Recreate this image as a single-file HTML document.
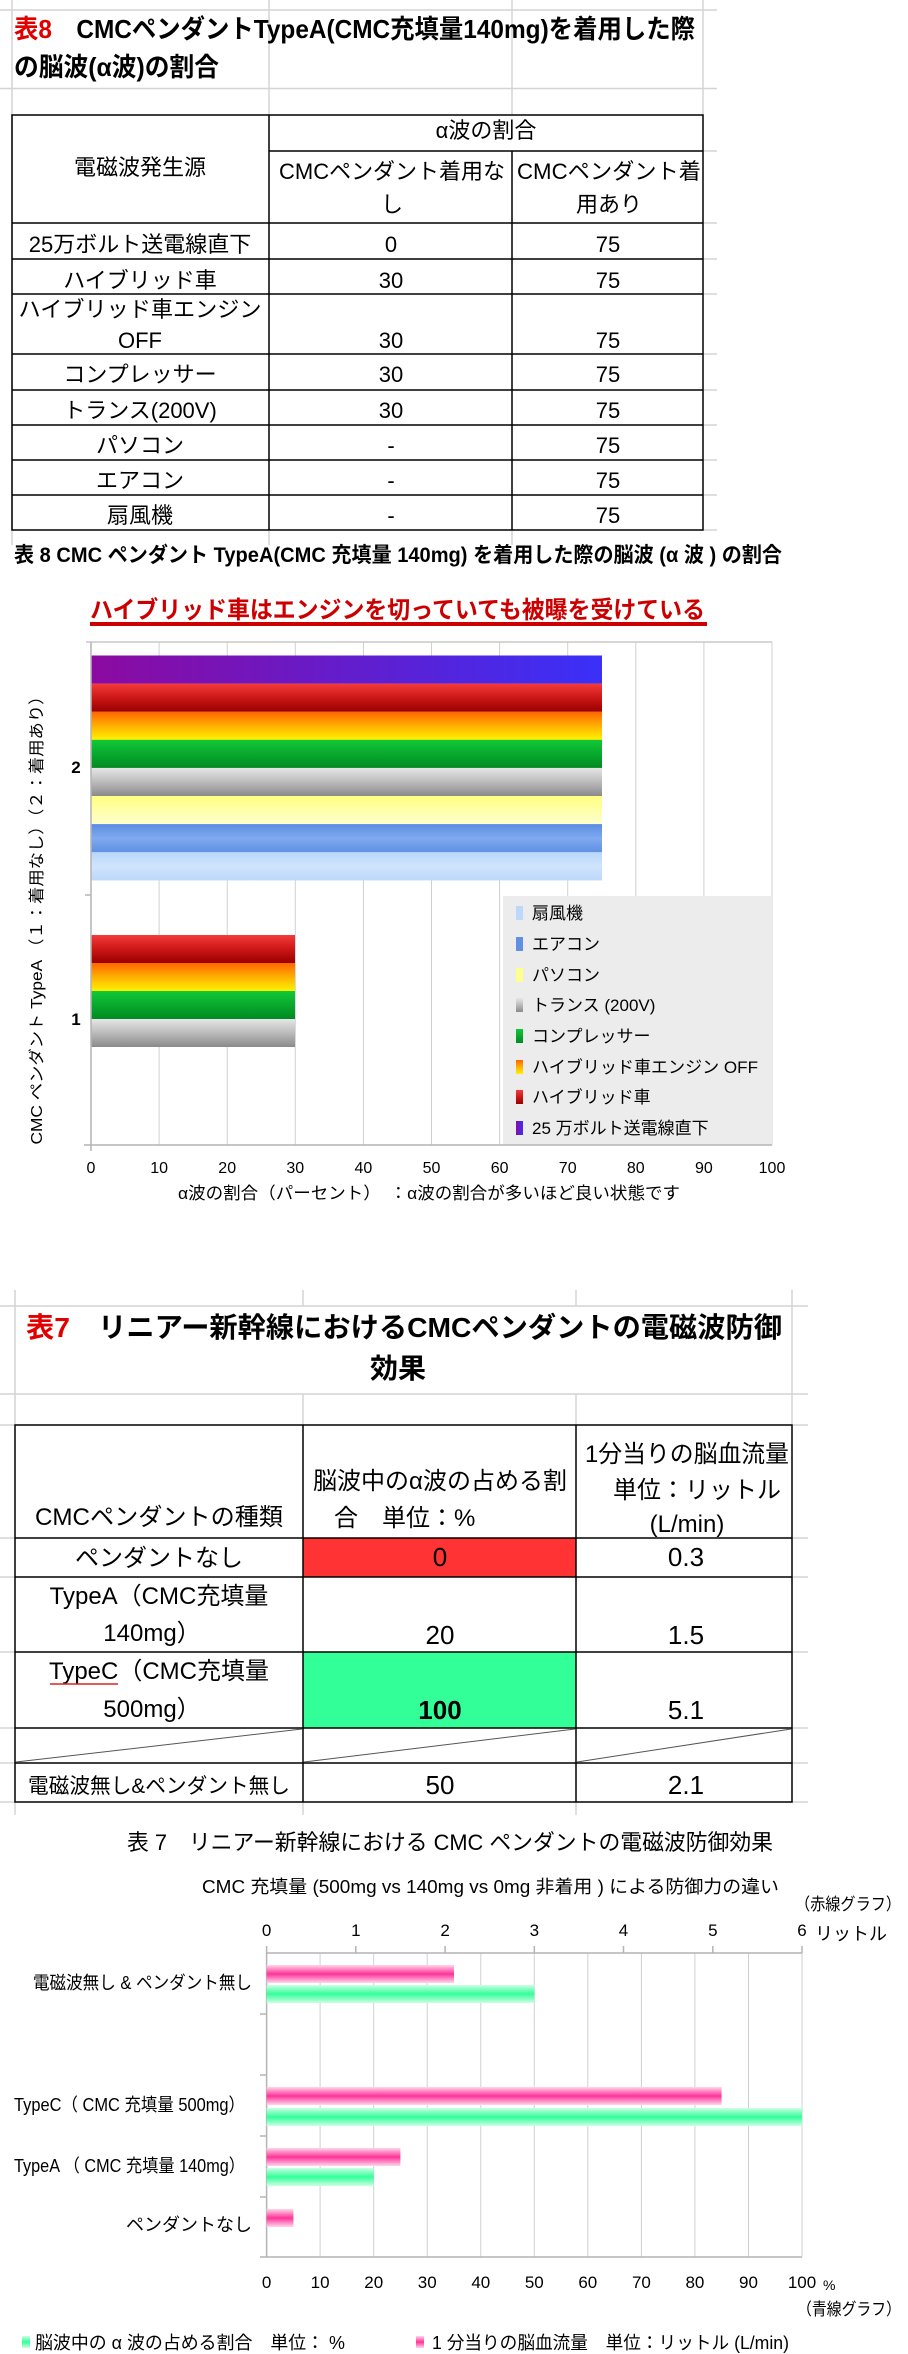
<!DOCTYPE html>
<html><head><meta charset="utf-8">
<style>
html,body{margin:0;padding:0;background:#fff;}
svg{display:block;}
text{font-family:"Liberation Sans","Noto Sans CJK JP",sans-serif;fill:#000;}
</style></head>
<body>
<svg width="908" height="2354" viewBox="0 0 908 2354" xmlns="http://www.w3.org/2000/svg">
<defs>
<linearGradient id="gPur" x1="0" y1="0" x2="1" y2="0"><stop offset="0" stop-color="#8c0aa0"/><stop offset="1" stop-color="#3a30f8"/></linearGradient>
<linearGradient id="gRed" x1="0" y1="0" x2="0" y2="1"><stop offset="0" stop-color="#f43a3a"/><stop offset="0.55" stop-color="#c81414"/><stop offset="1" stop-color="#980000"/></linearGradient>
<linearGradient id="gOr" x1="0" y1="0" x2="0" y2="1"><stop offset="0" stop-color="#ff6400"/><stop offset="0.5" stop-color="#ffb000"/><stop offset="1" stop-color="#fff200"/></linearGradient>
<linearGradient id="gGr" x1="0" y1="0" x2="0" y2="1"><stop offset="0" stop-color="#12c838"/><stop offset="1" stop-color="#008a22"/></linearGradient>
<linearGradient id="gGy" x1="0" y1="0" x2="0" y2="1"><stop offset="0" stop-color="#e6e6e6"/><stop offset="0.4" stop-color="#c4c4c4"/><stop offset="1" stop-color="#8a8a8a"/></linearGradient>
<linearGradient id="gYe" x1="0" y1="0" x2="0" y2="1"><stop offset="0" stop-color="#ffff80"/><stop offset="1" stop-color="#ffffd0"/></linearGradient>
<linearGradient id="gBl" x1="0" y1="0" x2="0" y2="1"><stop offset="0" stop-color="#5a8ce0"/><stop offset="0.5" stop-color="#80aaf0"/><stop offset="1" stop-color="#5f90e4"/></linearGradient>
<linearGradient id="gLb" x1="0" y1="0" x2="0" y2="1"><stop offset="0" stop-color="#b8d6fa"/><stop offset="0.5" stop-color="#d0e4fc"/><stop offset="1" stop-color="#bcd8fa"/></linearGradient>
<linearGradient id="gPk" x1="0" y1="0" x2="0" y2="1"><stop offset="0" stop-color="#ffd6ea"/><stop offset="0.5" stop-color="#ff3399"/><stop offset="1" stop-color="#ffd6ea"/></linearGradient>
<linearGradient id="gGn" x1="0" y1="0" x2="0" y2="1"><stop offset="0" stop-color="#ccffe4"/><stop offset="0.5" stop-color="#33ff99"/><stop offset="1" stop-color="#ccffe4"/></linearGradient>
</defs>

<!-- ===== Table 8 ===== -->
<g stroke="#d4d4d4" stroke-width="1.5">
<line x1="0" y1="10" x2="717" y2="10"/><line x1="0" y1="88.5" x2="717" y2="88.5"/>
<line x1="12" y1="0" x2="12" y2="545"/><line x1="269" y1="0" x2="269" y2="115"/><line x1="512" y1="0" x2="512" y2="115"/><line x1="703" y1="0" x2="703" y2="115"/>
<line x1="269" y1="530" x2="269" y2="545"/><line x1="512" y1="530" x2="512" y2="545"/>
<line x1="703" y1="151" x2="717" y2="151"/><line x1="703" y1="223" x2="717" y2="223"/><line x1="703" y1="259" x2="717" y2="259"/><line x1="703" y1="294" x2="717" y2="294"/><line x1="703" y1="354" x2="717" y2="354"/><line x1="703" y1="390" x2="717" y2="390"/><line x1="703" y1="425" x2="717" y2="425"/><line x1="703" y1="460" x2="717" y2="460"/><line x1="703" y1="495" x2="717" y2="495"/><line x1="703" y1="530" x2="717" y2="530"/>
</g>
<text x="14" y="38" font-size="26" font-weight="bold" textLength="681" lengthAdjust="spacingAndGlyphs"><tspan fill="#e00000">表8</tspan>　CMCペンダントTypeA(CMC充填量140mg)を着用した際</text>
<text x="14" y="76" font-size="26" font-weight="bold" textLength="205" lengthAdjust="spacingAndGlyphs">の脳波(α波)の割合</text>

<g stroke="#000" stroke-width="1.5" fill="none">
<rect x="12" y="115" width="691" height="415"/>
<line x1="269" y1="115" x2="269" y2="530"/><line x1="512" y1="151" x2="512" y2="530"/>
<line x1="269" y1="151" x2="703" y2="151"/>
<line x1="12" y1="223" x2="703" y2="223"/><line x1="12" y1="259" x2="703" y2="259"/><line x1="12" y1="294" x2="703" y2="294"/><line x1="12" y1="354" x2="703" y2="354"/><line x1="12" y1="390" x2="703" y2="390"/><line x1="12" y1="425" x2="703" y2="425"/><line x1="12" y1="460" x2="703" y2="460"/><line x1="12" y1="495" x2="703" y2="495"/>
</g>
<g font-size="22" text-anchor="middle">
<text x="140" y="175">電磁波発生源</text>
<text x="486" y="138">α波の割合</text>
<text x="392" y="179" textLength="226" lengthAdjust="spacingAndGlyphs">CMCペンダント着用な</text>
<text x="392" y="212">し</text>
<text x="609" y="179" textLength="184" lengthAdjust="spacingAndGlyphs">CMCペンダント着</text>
<text x="609" y="212">用あり</text>
<text x="140" y="252">25万ボルト送電線直下</text><text x="391" y="252">0</text><text x="608" y="252">75</text>
<text x="140" y="288">ハイブリッド車</text><text x="391" y="288">30</text><text x="608" y="288">75</text>
<text x="140" y="317" textLength="243" lengthAdjust="spacingAndGlyphs">ハイブリッド車エンジン</text>
<text x="140" y="348">OFF</text><text x="391" y="348">30</text><text x="608" y="348">75</text>
<text x="140" y="382">コンプレッサー</text><text x="391" y="382">30</text><text x="608" y="382">75</text>
<text x="140" y="418">トランス(200V)</text><text x="391" y="418">30</text><text x="608" y="418">75</text>
<text x="140" y="453">パソコン</text><text x="391" y="453">-</text><text x="608" y="453">75</text>
<text x="140" y="488">エアコン</text><text x="391" y="488">-</text><text x="608" y="488">75</text>
<text x="140" y="523">扇風機</text><text x="391" y="523">-</text><text x="608" y="523">75</text>
</g>
<text x="14" y="562" font-size="21" font-weight="bold" textLength="768" lengthAdjust="spacingAndGlyphs">表 8  CMC ペンダント TypeA(CMC 充填量 140mg) を着用した際の脳波 (α 波 ) の割合</text>

<!-- ===== Chart 1 ===== -->
<text x="90" y="618" font-size="24" font-weight="bold" fill="#cc0000" style="fill:#cc0000" textLength="615" lengthAdjust="spacingAndGlyphs">ハイブリッド車はエンジンを切っていても被曝を受けている</text>
<rect x="90" y="622" width="617" height="4" fill="#cc0000"/>
<g stroke="#d0d0d0" stroke-width="1">
<line x1="159.1" y1="642" x2="159.1" y2="1145"/><line x1="227.2" y1="642" x2="227.2" y2="1145"/><line x1="295.3" y1="642" x2="295.3" y2="1145"/><line x1="363.4" y1="642" x2="363.4" y2="1145"/><line x1="431.5" y1="642" x2="431.5" y2="1145"/><line x1="499.6" y1="642" x2="499.6" y2="1145"/><line x1="567.7" y1="642" x2="567.7" y2="1145"/><line x1="635.8" y1="642" x2="635.8" y2="1145"/><line x1="703.9" y1="642" x2="703.9" y2="1145"/><line x1="772" y1="642" x2="772" y2="1145"/>
</g>
<line x1="86" y1="642" x2="772" y2="642" stroke="#c8c8c8" stroke-width="1.5"/>
<rect x="503" y="896" width="269" height="249" fill="#ececec"/>
<g>
<rect x="91" y="655.5" width="511" height="28.2" fill="url(#gPur)"/>
<rect x="91" y="683.6" width="511" height="28.2" fill="url(#gRed)"/>
<rect x="91" y="711.7" width="511" height="28.2" fill="url(#gOr)"/>
<rect x="91" y="739.8" width="511" height="28.2" fill="url(#gGr)"/>
<rect x="91" y="767.9" width="511" height="28.2" fill="url(#gGy)"/>
<rect x="91" y="796" width="511" height="28.2" fill="url(#gYe)"/>
<rect x="91" y="824.1" width="511" height="28.2" fill="url(#gBl)"/>
<rect x="91" y="852.2" width="511" height="28.2" fill="url(#gLb)"/>
<rect x="91" y="935" width="204" height="28" fill="url(#gRed)"/>
<rect x="91" y="963" width="204" height="28" fill="url(#gOr)"/>
<rect x="91" y="991" width="204" height="28" fill="url(#gGr)"/>
<rect x="91" y="1019" width="204" height="28" fill="url(#gGy)"/>
</g>
<g stroke="#b4b4b4" stroke-width="1.5">
<line x1="91" y1="642" x2="91" y2="1145"/><line x1="84" y1="1145" x2="772" y2="1145"/>
<line x1="85" y1="895" x2="91" y2="895"/>
<line x1="91" y1="1145" x2="91" y2="1151"/>
</g>
<text x="76" y="773" font-size="17" font-weight="bold" text-anchor="middle">2</text>
<text x="76" y="1025" font-size="17" font-weight="bold" text-anchor="middle">1</text>
<text transform="translate(42,916) rotate(-90)" font-size="16" text-anchor="middle" textLength="457" lengthAdjust="spacingAndGlyphs">CMC ペンダント TypeA （１：着用なし）（２：着用あり）</text>
<g font-size="17">
<rect x="516" y="906" width="7" height="14" fill="#bcd8fa"/><text x="532" y="919">扇風機</text>
<rect x="516" y="937" width="7" height="14" fill="#5f90e4"/><text x="532" y="950">エアコン</text>
<rect x="516" y="968" width="7" height="14" fill="#ffff90"/><text x="532" y="981">パソコン</text>
<rect x="516" y="998" width="7" height="14" fill="url(#gGy)"/><text x="532" y="1011">トランス (200V)</text>
<rect x="516" y="1029" width="7" height="14" fill="url(#gGr)"/><text x="532" y="1042">コンプレッサー</text>
<rect x="516" y="1060" width="7" height="14" fill="url(#gOr)"/><text x="532" y="1073" textLength="226" lengthAdjust="spacingAndGlyphs">ハイブリッド車エンジン OFF</text>
<rect x="516" y="1090" width="7" height="14" fill="url(#gRed)"/><text x="532" y="1103">ハイブリッド車</text>
<rect x="516" y="1121" width="7" height="14" fill="url(#gPur)"/><text x="532" y="1134">25 万ボルト送電線直下</text>
</g>
<g font-size="16" text-anchor="middle">
<text x="91" y="1173">0</text><text x="159.1" y="1173">10</text><text x="227.2" y="1173">20</text><text x="295.3" y="1173">30</text><text x="363.4" y="1173">40</text><text x="431.5" y="1173">50</text><text x="499.6" y="1173">60</text><text x="567.7" y="1173">70</text><text x="635.8" y="1173">80</text><text x="703.9" y="1173">90</text><text x="772" y="1173">100</text>
</g>
<text x="178" y="1199" font-size="17" textLength="502" lengthAdjust="spacingAndGlyphs">α波の割合（パーセント）　：α波の割合が多いほど良い状態です</text>

<!-- ===== Table 7 ===== -->
<g stroke="#d4d4d4" stroke-width="1.5">
<line x1="15" y1="1290" x2="15" y2="1425"/><line x1="303" y1="1290" x2="303" y2="1306"/><line x1="576" y1="1290" x2="576" y2="1306"/><line x1="792" y1="1290" x2="792" y2="1425"/>
<line x1="303" y1="1394" x2="303" y2="1425"/><line x1="576" y1="1394" x2="576" y2="1425"/>
<line x1="0" y1="1306" x2="808" y2="1306"/><line x1="0" y1="1394" x2="808" y2="1394"/>
<line x1="0" y1="1425" x2="15" y2="1425"/><line x1="792" y1="1425" x2="808" y2="1425"/>
<line x1="0" y1="1538" x2="15" y2="1538"/><line x1="792" y1="1538" x2="808" y2="1538"/>
<line x1="0" y1="1577" x2="15" y2="1577"/><line x1="792" y1="1577" x2="808" y2="1577"/>
<line x1="0" y1="1652" x2="15" y2="1652"/><line x1="792" y1="1652" x2="808" y2="1652"/>
<line x1="0" y1="1728" x2="15" y2="1728"/><line x1="792" y1="1728" x2="808" y2="1728"/>
<line x1="0" y1="1763" x2="15" y2="1763"/><line x1="792" y1="1763" x2="808" y2="1763"/>
<line x1="0" y1="1802" x2="15" y2="1802"/><line x1="792" y1="1802" x2="808" y2="1802"/>
<line x1="15" y1="1802" x2="15" y2="1815"/><line x1="303" y1="1802" x2="303" y2="1815"/><line x1="576" y1="1802" x2="576" y2="1815"/>
</g>
<text x="26" y="1337" font-size="28" font-weight="bold" textLength="756" lengthAdjust="spacingAndGlyphs"><tspan fill="#e00000">表7</tspan>　リニアー新幹線におけるCMCペンダントの電磁波防御</text>
<text x="398" y="1378" font-size="28" font-weight="bold" text-anchor="middle">効果</text>

<rect x="303" y="1538" width="273" height="39" fill="#ff3333"/>
<rect x="303" y="1652" width="273" height="76" fill="#33ff99"/>
<g stroke="#000" stroke-width="1.5" fill="none">
<rect x="15" y="1425" width="777" height="377"/>
<line x1="303" y1="1425" x2="303" y2="1802"/><line x1="576" y1="1425" x2="576" y2="1802"/>
<line x1="15" y1="1538" x2="792" y2="1538"/><line x1="15" y1="1577" x2="792" y2="1577"/><line x1="15" y1="1652" x2="792" y2="1652"/><line x1="15" y1="1728" x2="792" y2="1728"/><line x1="15" y1="1763" x2="792" y2="1763"/>
</g>
<g stroke="#555" stroke-width="1">
<line x1="16" y1="1762" x2="302" y2="1729"/><line x1="304" y1="1762" x2="575" y2="1729"/><line x1="577" y1="1762" x2="791" y2="1729"/>
</g>
<g font-size="24" text-anchor="middle">
<text x="159" y="1525" textLength="248" lengthAdjust="spacingAndGlyphs">CMCペンダントの種類</text>
<text x="440" y="1489" textLength="254" lengthAdjust="spacingAndGlyphs">脳波中のα波の占める割</text>
<text x="334" y="1526" text-anchor="start">合　単位：%</text>
<text x="687" y="1462" textLength="204" lengthAdjust="spacingAndGlyphs">1分当りの脳血流量</text>
<text x="697" y="1498">単位：リットル</text>
<text x="687" y="1532">(L/min)</text>
<text x="159" y="1566">ペンダントなし</text>
<text x="159" y="1604">TypeA（CMC充填量</text>
<text x="152" y="1641">140mg）</text>
<text x="159" y="1679">TypeC（CMC充填量</text>
<text x="152" y="1717">500mg）</text>
<text x="159" y="1793" font-size="21" textLength="262" lengthAdjust="spacingAndGlyphs">電磁波無し&amp;ペンダント無し</text>
</g>
<line x1="50" y1="1684" x2="118" y2="1684" stroke="#dd2222" stroke-width="1.5"/>
<g font-size="26" text-anchor="middle">
<text x="440" y="1566">0</text><text x="686" y="1566">0.3</text>
<text x="440" y="1644">20</text><text x="686" y="1644">1.5</text>
<text x="440" y="1719" font-weight="bold">100</text><text x="686" y="1719">5.1</text>
<text x="440" y="1794">50</text><text x="686" y="1794">2.1</text>
</g>

<!-- ===== Chart 2 ===== -->
<text x="127" y="1850" font-size="22" textLength="646" lengthAdjust="spacingAndGlyphs">表 7　リニアー新幹線における CMC ペンダントの電磁波防御効果</text>
<text x="202" y="1893" font-size="18" textLength="577" lengthAdjust="spacingAndGlyphs">CMC 充填量 (500mg vs 140mg vs 0mg 非着用 ) による防御力の違い</text>
<text x="795" y="1910" font-size="17" textLength="106" lengthAdjust="spacingAndGlyphs">（赤線グラフ）</text>
<g font-size="17" text-anchor="middle">
<text x="266.6" y="1936">0</text><text x="355.8" y="1936">1</text><text x="445.1" y="1936">2</text><text x="534.3" y="1936">3</text><text x="623.5" y="1936">4</text><text x="712.8" y="1936">5</text><text x="802" y="1936">6</text>
</g>
<text x="815" y="1940" font-size="18">リットル</text>
<g stroke="#d0d0d0" stroke-width="1">
<line x1="320.1" y1="1953" x2="320.1" y2="2257"/><line x1="373.7" y1="1953" x2="373.7" y2="2257"/><line x1="427.2" y1="1953" x2="427.2" y2="2257"/><line x1="480.8" y1="1953" x2="480.8" y2="2257"/><line x1="534.3" y1="1953" x2="534.3" y2="2257"/><line x1="587.8" y1="1953" x2="587.8" y2="2257"/><line x1="641.4" y1="1953" x2="641.4" y2="2257"/><line x1="694.9" y1="1953" x2="694.9" y2="2257"/><line x1="748.5" y1="1953" x2="748.5" y2="2257"/><line x1="802" y1="1953" x2="802" y2="2257"/>
</g>
<g stroke="#b4b4b4" stroke-width="1.5">
<line x1="266.6" y1="1953" x2="802" y2="1953"/>
<line x1="266.6" y1="1946" x2="266.6" y2="1953"/><line x1="355.8" y1="1946" x2="355.8" y2="1953"/><line x1="445.1" y1="1946" x2="445.1" y2="1953"/><line x1="534.3" y1="1946" x2="534.3" y2="1953"/><line x1="623.5" y1="1946" x2="623.5" y2="1953"/><line x1="712.8" y1="1946" x2="712.8" y2="1953"/><line x1="802" y1="1946" x2="802" y2="1953"/>
<line x1="266.6" y1="1953" x2="266.6" y2="2257"/><line x1="260" y1="2257" x2="802" y2="2257"/>
<line x1="260" y1="2014" x2="266.6" y2="2014"/><line x1="260" y1="2075" x2="266.6" y2="2075"/><line x1="260" y1="2136" x2="266.6" y2="2136"/><line x1="260" y1="2197" x2="266.6" y2="2197"/>
</g>
<rect x="266.6" y="1965" width="187.4" height="18" fill="url(#gPk)"/>
<rect x="266.6" y="1985" width="267.7" height="18" fill="url(#gGn)"/>
<rect x="266.6" y="2087" width="455" height="18" fill="url(#gPk)"/>
<rect x="266.6" y="2108" width="535.4" height="18" fill="url(#gGn)"/>
<rect x="266.6" y="2148" width="133.8" height="18" fill="url(#gPk)"/>
<rect x="266.6" y="2168" width="107.1" height="18" fill="url(#gGn)"/>
<rect x="266.6" y="2209" width="26.8" height="18" fill="url(#gPk)"/>
<g font-size="18" text-anchor="end">
<text x="252" y="1989" textLength="219" lengthAdjust="spacingAndGlyphs">電磁波無し &amp; ペンダント無し</text>
<text x="245" y="2111" textLength="231" lengthAdjust="spacingAndGlyphs">TypeC（ CMC 充填量 500mg）</text>
<text x="245" y="2172" textLength="231" lengthAdjust="spacingAndGlyphs">TypeA （ CMC 充填量 140mg）</text>
<text x="252" y="2231">ペンダントなし</text>
</g>
<g font-size="17" text-anchor="middle">
<text x="266.6" y="2288">0</text><text x="320.1" y="2288">10</text><text x="373.7" y="2288">20</text><text x="427.2" y="2288">30</text><text x="480.8" y="2288">40</text><text x="534.3" y="2288">50</text><text x="587.8" y="2288">60</text><text x="641.4" y="2288">70</text><text x="694.9" y="2288">80</text><text x="748.5" y="2288">90</text><text x="802" y="2288">100</text>
</g>
<text x="823" y="2290" font-size="14">%</text>
<text x="797" y="2315" font-size="17" textLength="104" lengthAdjust="spacingAndGlyphs">（青線グラフ）</text>
<rect x="22" y="2336" width="8" height="12" fill="url(#gGn)"/>
<text x="35" y="2349" font-size="18" textLength="310" lengthAdjust="spacingAndGlyphs">脳波中の α 波の占める割合　単位： %</text>
<rect x="416" y="2336" width="8" height="12" fill="url(#gPk)"/>
<text x="432" y="2349" font-size="18" textLength="357" lengthAdjust="spacingAndGlyphs">1 分当りの脳血流量　単位：リットル (L/min)</text>
</svg>
</body></html>
